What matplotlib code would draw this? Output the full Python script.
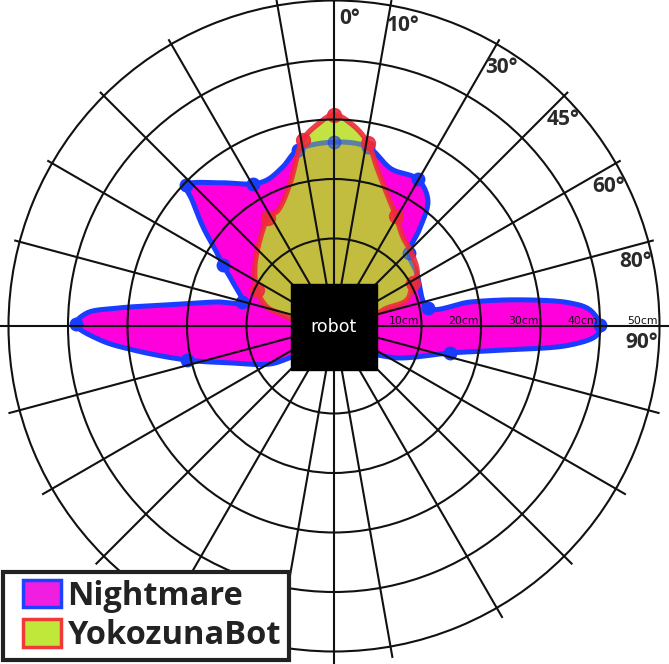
import numpy as np
import matplotlib
matplotlib.use("Agg")
import matplotlib.pyplot as plt
import matplotlib.transforms as mtransforms
from matplotlib.patches import Patch, Rectangle
from matplotlib.legend_handler import HandlerPatch

# --- DATA: detection boundary, angle in degrees (clockwise, 0 = straight ahead), distance in cm ---
NIGHTMARE_ANGLE = [-180, -135, -120.7, -110.1, -103.0, -96.8, -93.4, -89.6, -87.0, -85.3,
                   -82.8, -78.4, -75.4, -66.9, -61.2, -58.0, -52.9, -48.4, -46.4, -38.6,
                   -29.7, -24.6, -17.8, -11.6, 0.0, 10.7, 20.0, 29.7, 36.7, 41.3,
                   45.8, 57.4, 79.2, 80.0, 82.0, 84.4, 86.4, 89.8, 92.0, 94.6,
                   98.1, 103.1, 115.9, 135]
NIGHTMARE_DIST = [2.0, 2.0, 7.8, 13.4, 20.7, 29.3, 34.7, 38.7, 36.9, 31.9,
                  23.6, 15.4, 11.3, 13.7, 16.6, 18.5, 22.9, 27.2, 29.6, 26.1,
                  22.8, 22.3, 23.4, 25.5, 26.2, 25.9, 23.4, 23.7, 21.7, 17.2,
                  12.9, 11.8, 11.4, 18.5, 26.9, 35.1, 38.4, 40.0, 39.5, 35.1,
                  24.0, 15.3, 7.6, 2.0]
NIGHTMARE_DOTS = [-103.0, -89.6, -75.4, -61.2, -46.4, -29.7, -11.6, 0.0, 10.7, 29.7,
                  45.8, 79.2, 89.8, 103.1]

YOKO_ANGLE = [-180, -90, -77.8, -74.2, -64.9, -53.2, -40.7, -31.2, -25.8, -17.1,
              -9.5, -4.9, 0.0, 5.4, 10.5, 15.0, 21.7, 29.4, 37.8, 46.9,
              57.4, 61.4, 70.4, 71.9, 90]
YOKO_DIST = [0.5, 0.5, 4.1, 7.0, 9.6, 11.9, 14.4, 16.6, 16.9, 20.4,
             27.0, 29.2, 30.8, 29.2, 26.6, 23.0, 19.3, 16.5, 14.2, 13.2,
             11.9, 10.4, 8.3, 4.0, 0.5]
YOKO_DOTS = [-64.9, -31.2, -9.5, 0.0, 10.5, 29.4, 61.4]

RING_CM = [10, 20, 30, 40, 50]
RING_LABELS = ["10cm", "20cm", "30cm", "40cm", "50cm"]
SPOKES_FRONT = [0, 10, 30, 45, 60, 75, -10, -30, -45, -60, -75]
SPOKES_BACK = [105, 120, 135, 150, 170, -105, -120, -135, -150, -170]
SPOKES_AXIS = [90, -90, 180]
ANGLE_TICKS = [0, 10, 30, 45, 60, 75, 90]
ANGLE_TICK_LABELS = ["0°", "10°", "30°", "45°", "60°", "80°", "90°"]

# --- geometry of the drawing ---
PX_PER_CM = 5.95
R_ORIGIN = -28 / PX_PER_CM          # grid starts 28 px out from the centre
AX_RADIUS_PX = 340
R_MAX = AX_RADIUS_PX / PX_PER_CM + R_ORIGIN
W, H = 669, 664
CX, CY = 334, 326                   # centre in image pixels (from top-left)

MAGENTA = "#ff00dc"
BLUE = "#1a3cff"
GREEN = "#b8de23"
RED = "#ee2b3b"
GRID = "#111111"


def smooth_closed(theta_deg, dist, n=20):
    """Centripetal Catmull-Rom through the boundary nodes (closed), back in polar."""
    rho = np.asarray(dist, float) - R_ORIGIN
    t = np.radians(theta_deg)
    pts = np.column_stack([rho * np.sin(t), rho * np.cos(t)])
    m = len(pts)
    out = []
    for i in range(m):
        p0, p1, p2, p3 = pts[(i - 1) % m], pts[i], pts[(i + 1) % m], pts[(i + 2) % m]
        t0 = 0.0
        t1 = t0 + np.linalg.norm(p1 - p0) ** 0.5 + 1e-9
        t2 = t1 + np.linalg.norm(p2 - p1) ** 0.5 + 1e-9
        t3 = t2 + np.linalg.norm(p3 - p2) ** 0.5 + 1e-9
        ts = np.linspace(t1, t2, n, endpoint=False)[:, None]
        a1 = (t1 - ts) / (t1 - t0) * p0 + (ts - t0) / (t1 - t0) * p1
        a2 = (t2 - ts) / (t2 - t1) * p1 + (ts - t1) / (t2 - t1) * p2
        a3 = (t3 - ts) / (t3 - t2) * p2 + (ts - t2) / (t3 - t2) * p3
        b1 = (t2 - ts) / (t2 - t0) * a1 + (ts - t0) / (t2 - t0) * a2
        b2 = (t3 - ts) / (t3 - t1) * a2 + (ts - t1) / (t3 - t1) * a3
        out.append((t2 - ts) / (t2 - t1) * b1 + (ts - t1) / (t2 - t1) * b2)
    out = np.vstack(out + [out[0][:1]])
    th = np.unwrap(np.arctan2(out[:, 0], out[:, 1]))
    r = np.hypot(out[:, 0], out[:, 1]) + R_ORIGIN
    return th, r


def dot_dist(angles, dists, dots):
    lookup = dict(zip(angles, dists))
    return np.radians(dots), [lookup[a] for a in dots]


def indented_box(legend, orig_handle, xdescent, ydescent, width, height, fontsize):
    # square swatch pushed in from the legend frame
    shift = 12 * 72 / 100
    return Rectangle((-xdescent + shift, -ydescent), width - shift, height)


fig = plt.figure(figsize=(W / 100, H / 100), dpi=100)
fig.patch.set_facecolor("white")
ax = fig.add_axes([(CX - AX_RADIUS_PX) / W, (H - CY - AX_RADIUS_PX) / H,
                   2 * AX_RADIUS_PX / W, 2 * AX_RADIUS_PX / H], projection="polar")
ax.set_theta_zero_location("N")
ax.set_theta_direction(-1)
ax.set_rorigin(R_ORIGIN)
ax.set_rlim(0, R_MAX)
ax.spines["polar"].set_visible(False)
ax.spines["inner"].set_visible(False)
ax.set_thetagrids([])
ax.set_rgrids(RING_CM)
ax.set_yticklabels([])
ax.set_axisbelow(False)
ax.yaxis.grid(True, color=GRID, linewidth=1.5)

# --- Nightmare ---
nm_th, nm_r = smooth_closed(NIGHTMARE_ANGLE, NIGHTMARE_DIST)
ax.fill(nm_th, nm_r, color=MAGENTA, zorder=1.0, lw=0)
ax.plot(nm_th, nm_r, color=BLUE, lw=3.6, zorder=1.2, solid_joinstyle="round")
nd_th, nd_r = dot_dist(NIGHTMARE_ANGLE, NIGHTMARE_DIST, NIGHTMARE_DOTS)
ax.plot(nd_th, nd_r, "o", color=BLUE, ms=9, zorder=1.3)

# --- YokozunaBot (semi transparent on top) ---
yk_th, yk_r = smooth_closed(YOKO_ANGLE, YOKO_DIST)
yk_fill = ax.fill(yk_th, yk_r, color=GREEN, alpha=0.85, zorder=1.4, lw=0)[0]
# blue outline shows through the green area, muted
ln = ax.plot(nm_th, nm_r, color=BLUE, lw=3.6, alpha=0.5, zorder=1.5)[0]
ln.set_clip_path(yk_fill)
dd = ax.plot(nd_th, nd_r, "o", color=BLUE, ms=9, alpha=0.5, zorder=1.5)[0]
dd.set_clip_path(yk_fill)
ax.plot(yk_th, yk_r, color=RED, lw=3.8, alpha=0.9, zorder=1.6, solid_joinstyle="round")
yd_th, yd_r = dot_dist(YOKO_ANGLE, YOKO_DIST, YOKO_DOTS)
ax.plot(yd_th, yd_r, "o", color=RED, ms=10, alpha=0.9, zorder=1.7)

# --- spokes ---
front_end = 330 / PX_PER_CM + R_ORIGIN
back_end = 336 / PX_PER_CM + R_ORIGIN
for a in SPOKES_FRONT:
    ax.plot([np.radians(a)] * 2, [0, front_end], color=GRID, lw=1.5, zorder=2.6)
for a in SPOKES_BACK:
    ax.plot([np.radians(a)] * 2, [0, back_end], color=GRID, lw=1.5, zorder=2.6)
for a in SPOKES_AXIS:
    ax.plot([np.radians(a)] * 2, [0, R_MAX], color=GRID, lw=1.5, zorder=2.6)

# --- labels ---
label_r = 308 / PX_PER_CM + R_ORIGIN
for a, lab in zip(ANGLE_TICKS, ANGLE_TICK_LABELS):
    ax.text(np.radians(a + 3), label_r, lab, ha="center", va="center", fontsize=15,
            fontweight="bold", color="#2a2a2a", family="Open Sans", zorder=4)
ring_tr = mtransforms.offset_copy(ax.transData, fig=fig, x=-1.5, y=1.5, units="points")
for rc, lab in zip(RING_CM, RING_LABELS):
    ax.text(np.pi / 2, rc, lab, transform=ring_tr, ha="right", va="baseline",
            fontsize=7.8, color="#111111", zorder=4, clip_on=False)

# --- robot body ---
half = 43 / (2 * AX_RADIUS_PX)
body = Rectangle((0.5 - half, 0.4978 - half), 2 * half, 2 * half,
                 transform=ax.transAxes, color="black", zorder=3)
ax.add_patch(body)
body.set_clip_on(False)
ax.text(0.5, 0.4978, "robot", transform=ax.transAxes, ha="center", va="center",
        color="white", fontsize=12.5, zorder=4, clip_on=False)

# --- legend ---
handles = [Patch(facecolor="#f01ee0", edgecolor="#2040ff", linewidth=2.5, label="Nightmare"),
           Patch(facecolor="#c0e83a", edgecolor="#f03a3a", linewidth=2.5, label="YokozunaBot")]
leg = fig.legend(handles=handles, loc="lower left", bbox_to_anchor=(3 / W, 4 / H),
                 borderaxespad=0, frameon=True, fancybox=False, framealpha=1,
                 edgecolor="#222222", handlelength=1.53, handleheight=0.92,
                 handletextpad=0.21, labelspacing=0.2, borderpad=0.24,
                 handler_map={Patch: HandlerPatch(patch_func=indented_box)},
                 prop={"family": "Open Sans", "weight": "bold", "size": 23.5})
leg.get_frame().set_linewidth(3)
for txt in leg.get_texts():
    txt.set_color("#222222")

fig.savefig("out.png", dpi=100, facecolor="white")
